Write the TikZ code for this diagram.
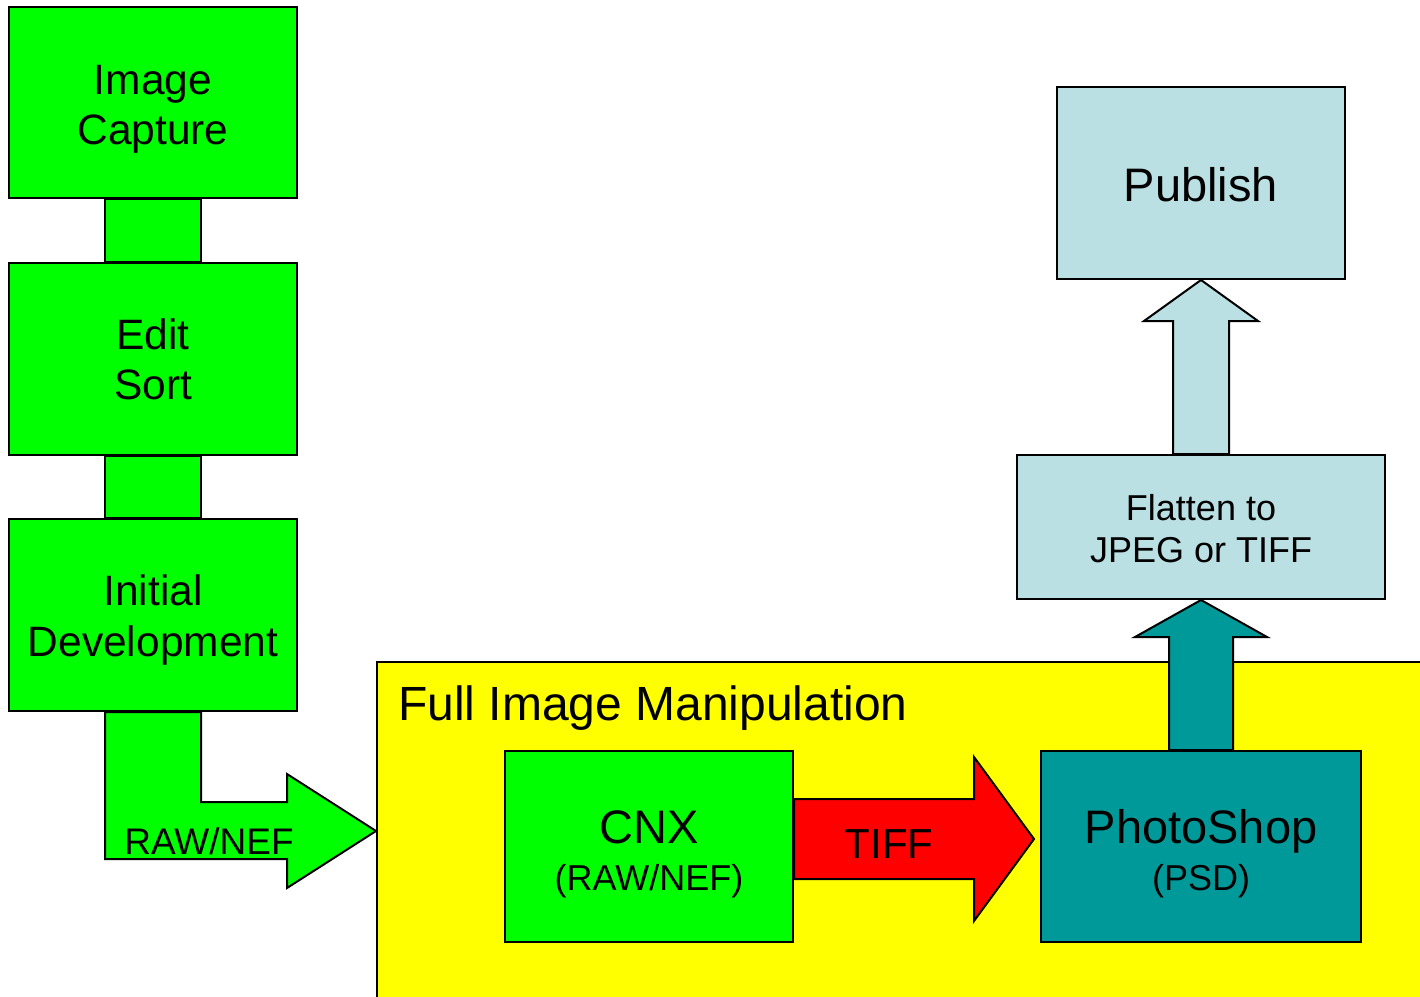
\documentclass[tikz,border=0pt]{standalone}
\usepackage{fontspec}
\setmainfont{Liberation Sans}
\usetikzlibrary{calc}
\definecolor{bgreen}{HTML}{00FF00}
\definecolor{byellow}{HTML}{FFFF00}
\definecolor{bred}{HTML}{FF0000}
\definecolor{bteal}{HTML}{009999}
\definecolor{blight}{HTML}{BBE0E3}
\pgfdeclarelayer{bg}
\pgfdeclarelayer{arr}
\pgfsetlayers{bg,arr,main}
\tikzset{
  outl/.style={draw=black, line width=2pt, line join=miter},
  box/.style={outl, inner sep=0pt, align=center},
  gbox/.style={box, fill=bgreen, minimum width=288pt, minimum height=192pt},
  txt/.style={inner sep=0pt, anchor=base},
  mtxt/.style={inner sep=0pt, align=center},
}
\begin{document}
\begin{tikzpicture}[x=1pt,y=-1pt]
\useasboundingbox (0,0) rectangle (1420,996);
\clip (0,0) rectangle (1420,996);
% yellow area
\begin{pgfonlayer}{bg}
\node[outl, fill=byellow, inner sep=0pt, minimum width=1053pt, minimum height=348pt] (yel) at (903.5,836) {};
\end{pgfonlayer}
% left boxes
\node[gbox, minimum height=191pt] (b1) at (153,102.5) {};
\node[gbox] (b2) at (153,359) {};
\node[gbox] (b3) at (153,615) {};
\node[mtxt, font=\fontsize{42.5}{50}\selectfont] (t1) at ($(b1.center)+(0,7)$) {Image\\Capture};
\node[mtxt, font=\fontsize{42.5}{50}\selectfont] (t2) at (b2.center) {Edit\\Sort};
\node[mtxt, font=\fontsize{42.5}{51}\selectfont] (t3) at ($(b3.center)+(0,5)$) {Initial\\Development};
% right boxes
\node[box, fill=bgreen, minimum width=288pt, minimum height=191pt] (cnx) at (649,846.5) {};
\node[box, fill=bteal, minimum width=320pt, minimum height=191pt] (ps) at (1201,846.5) {};
\node[box, fill=blight, minimum width=368pt, minimum height=144pt] (fl) at (1201,527) {};
\node[box, fill=blight, minimum width=288pt, minimum height=192pt] (pub) at (1201,183) {};
\node[mtxt, font=\fontsize{36}{42.5}\selectfont] (flt) at ($(fl.center)+(0,1.5)$) {Flatten to\\JPEG or TIFF};
\node[mtxt, font=\fontsize{47}{56}\selectfont] (pubt) at ($(pub.center)+(0,2)$) {Publish};
% title
\node[inner sep=0pt, anchor=base west, font=\fontsize{48}{57}\selectfont] (fim) at (398,720) {Full Image Manipulation};
% arrows (behind boxes)
\begin{pgfonlayer}{arr}
\draw[outl, fill=bgreen] ($(b1.south)+(-48,0)$) rectangle ($(b2.north)+(48,0)$);
\draw[outl, fill=bgreen] ($(b2.south)+(-48,0)$) rectangle ($(b3.north)+(48,0)$);
\draw[outl, fill=bgreen] ($(b3.south)+(-48,0)$) -- ++(0,147) -- ++(182,0) -- ++(0,29) -- ++(89,-57) -- ++(-89,-57) -- ++(0,28) -- ++(-86,0) -- ++(0,-90) -- cycle;
\draw[outl, fill=bred] ($(cnx.east)+(0,-47.5)$) -- ++(180,0) -- ++(0,-42) -- ++(60,82) -- ++(-60,82) -- ++(0,-42) -- ++(-180,0) -- cycle;
\draw[outl, fill=bteal] ($(ps.north)+(-32,0)$) -- ++(0,-113) -- ++(-34,0) -- (fl.south) -- ($(ps.north)+(66,-113)$) -- ++(-34,0) -- ($(ps.north)+(32,0)$) -- cycle;
\draw[outl, fill=blight] ($(fl.north)+(-28,0)$) -- ++(0,-133) -- ++(-29,0) -- (pub.south) -- ($(fl.north)+(57,-133)$) -- ++(-29,0) -- ($(fl.north)+(28,0)$) -- cycle;
\end{pgfonlayer}
% arrow labels
\node[txt, font=\fontsize{37}{44}\selectfont] (rawlbl) at ($(b3.south)+(56,142)$) {RAW/NEF};
\node[txt, font=\fontsize{42}{50}\selectfont] (tiff) at ($(cnx.east)+(95,11.5)$) {TIFF};
% box texts
\node[txt, font=\fontsize{47}{56}\selectfont] (cnxt) at ($(cnx.center)+(0,-3.5)$) {CNX};
\node[txt, font=\fontsize{36}{43}\selectfont] (cnxs) at ($(cnx.center)+(0,43.5)$) {(RAW/NEF)};
\node[txt, font=\fontsize{47}{56}\selectfont] (pst) at ($(ps.center)+(0,-3.5)$) {PhotoShop};
\node[txt, font=\fontsize{36}{43}\selectfont] (pss) at ($(ps.center)+(0,43.5)$) {(PSD)};
\end{tikzpicture}
\end{document}
